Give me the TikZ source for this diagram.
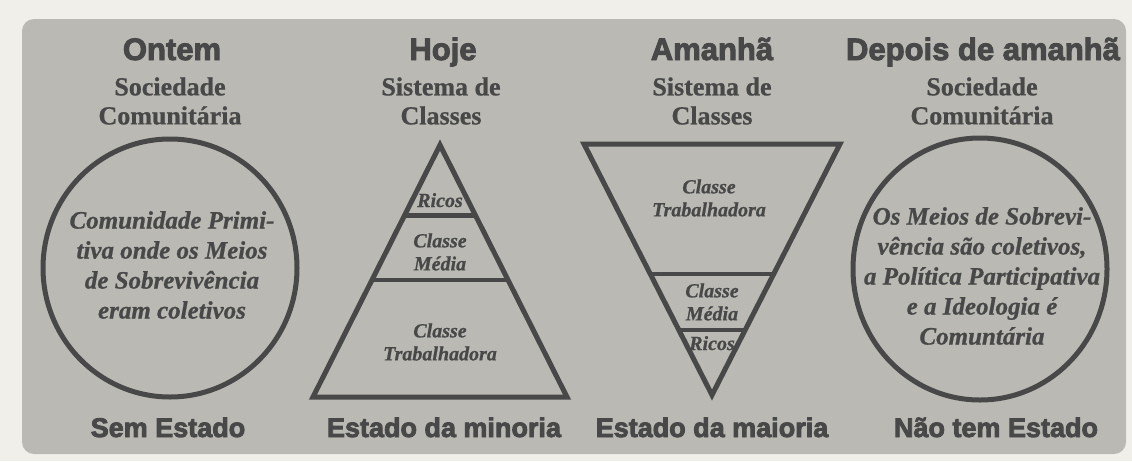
\documentclass[tikz,border=0pt]{standalone}
\usepackage{fontspec}
\setmainfont{Liberation Serif}
\setsansfont{Liberation Sans}
\newfontfamily\heavysans{Liberation Sans}[BoldFeatures={FakeBold=3}]
\newfontfamily\heavyserif{Liberation Serif}[BoldFeatures={FakeBold=0.8},BoldItalicFeatures={FakeBold=0.8}]
\usetikzlibrary{calc}
\definecolor{bgout}{HTML}{F1EFEA}
\definecolor{panel}{HTML}{BAB9B3}
\definecolor{ink}{HTML}{484848}
\begin{document}
\begin{tikzpicture}[x=1pt,y=-1pt,
  title/.style={font=\heavysans\bfseries\fontsize{31}{31}\selectfont, text=ink, anchor=base, inner sep=0pt},
  sub/.style={font=\heavyserif\bfseries\fontsize{26}{29}\selectfont, text=ink, align=center, inner sep=0pt},
  circtext/.style={font=\heavyserif\bfseries\itshape\fontsize{25}{30}\selectfont, text=ink, align=center, inner sep=0pt},
  tritext/.style={font=\heavyserif\bfseries\itshape\fontsize{20}{23}\selectfont, text=ink, align=center, inner sep=0pt},
  bottomlabel/.style={font=\heavysans\bfseries\fontsize{27}{27}\selectfont, text=ink, anchor=base, inner sep=0pt},
  outline/.style={draw=ink, line width=5pt, line join=miter},
  divider/.style={draw=ink, line width=4.5pt},
]
\fill[bgout] (0,0) rectangle (1132,461);
\fill[panel, rounded corners=12pt] (22,19) rectangle (1126,454);
\useasboundingbox (0,0) rectangle (1132,461);

% titles
\node[title] (t1) at (172,60) {Ontem};
\node[title] (t2) at (443,60) {Hoje};
\node[title] (t3) at (712,60) {Amanhã};
\node[title] (t4) at (983,60) {Depois de amanhã};

% subtitles
\node[sub] (s1) at (170,101) {Sociedade\\Comunitária};
\node[sub] (s2) at (441,101) {Sistema de\\Classes};
\node[sub] (s3) at (712,101) {Sistema de\\Classes};
\node[sub] (s4) at (982,101) {Sociedade\\Comunitária};

% circle 1
\coordinate (c1) at (170,268);
\draw[outline] (c1) ellipse [x radius=127, y radius=129];
\node[circtext] (ct1) at (172,265) {Comunidade Primi-\\tiva onde os Meios\\de Sobrevivência\\eram coletivos};

% pyramid (Hoje)
\coordinate (pA) at (440,145);
\coordinate (pL) at (313,397);
\coordinate (pR) at (567,397);
\draw[outline] (pA) -- (pL) -- (pR) -- cycle;
\draw[divider] ($(pA)!0.28!(pL)$) -- ($(pA)!0.28!(pR)$);
\draw[divider] ($(pA)!0.535!(pL)$) -- ($(pA)!0.535!(pR)$);
\node[tritext, anchor=base] (h1) at (440,207) {Ricos};
\node[tritext] (h2) at (440,252) {Classe\\Média};
\node[tritext] (h3) at (440,342) {Classe\\Trabalhadora};

% inverted pyramid (Amanhã)
\coordinate (iA) at (712,395);
\coordinate (iL) at (584,144);
\coordinate (iR) at (840,144);
\draw[outline] (iL) -- (iR) -- (iA) -- cycle;
\draw[divider] ($(iA)!0.482!(iL)$) -- ($(iA)!0.482!(iR)$);
\draw[divider] ($(iA)!0.259!(iL)$) -- ($(iA)!0.259!(iR)$);
\node[tritext] (a1) at (709,198) {Classe\\Trabalhadora};
\node[tritext] (a2) at (712,302) {Classe\\Média};
\node[tritext, anchor=base] (a3) at (712,350) {Ricos};

% circle 4
\coordinate (c4) at (980,269);
\draw[outline] (c4) ellipse [x radius=127, y radius=131];
\node[circtext] (ct4) at (982,276) {Os Meios de Sobrevi-\\vência são coletivos,\\a Política Participativa\\e a Ideologia é\\Comuntária};

% bottom labels
\node[bottomlabel] (b1) at (168,437) {Sem Estado};
\node[bottomlabel] (b2) at (444,437) {Estado da minoria};
\node[bottomlabel] (b3) at (712,437) {Estado da maioria};
\node[bottomlabel] (b4) at (996,437) {Não tem Estado};
\end{tikzpicture}
\end{document}
